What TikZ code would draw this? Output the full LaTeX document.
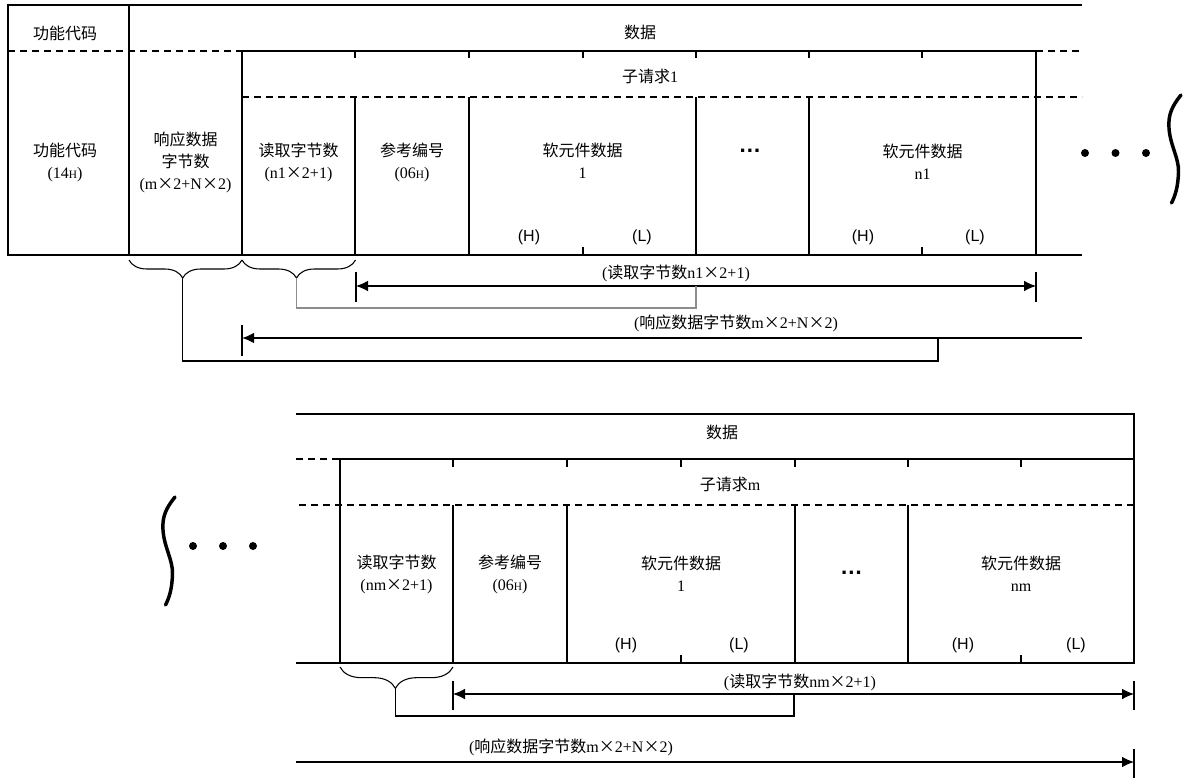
\documentclass[tikz,border=0pt]{standalone}
\usepackage{fontspec}
\setmainfont{Liberation Serif}
\setsansfont{Liberation Sans}
\newfontfamily\cjk{Noto Sans CJK SC}
\usetikzlibrary{decorations.pathreplacing,arrows.meta,calc}
\newcommand{\smH}{{\fontsize{8.5}{8.5}\selectfont H}}
\newcommand{\mulx}{{\cjk ×}}
\begin{document}
\begin{tikzpicture}[x=0.75pt,y=-0.75pt,
  outerline/.style={line width=1.3pt},
  subbox/.style={line width=1.8pt},
  divider/.style={line width=0.8pt},
  dashline/.style={line width=0.8pt,dash pattern=on 5pt off 4pt},
  lbl/.style={font=\fontsize{12}{16.5}\selectfont,align=center,inner sep=0pt},
  alabel/.style={font=\fontsize{12}{13}\selectfont,inner sep=0pt},
  hl/.style={font=\sffamily\fontsize{12}{14}\selectfont,inner sep=0pt},
  ell/.style={font=\sffamily\bfseries\fontsize{17}{17}\selectfont,inner sep=0pt},
  bracestyle/.style={line width=0.8pt,decorate},
  tipboth/.style={{Latex[length=9pt,width=8pt]}-{Latex[length=9pt,width=8pt]}},
  tipleft/.style={{Latex[length=9pt,width=8pt]}-},
  tipright/.style={-{Latex[length=9pt,width=8pt]}},
  barline/.style={line width=0.8pt},
  wave/.style={line width=2.6pt,line cap=round},
  bigdot/.style={fill=black}
]
\useasboundingbox (0,0) rectangle (1183,778);

% ================= top frame =================
\draw[outerline] (1082,5) -- (8,5) -- (8,255) -- (1082,255);
\draw[outerline] (129,5) -- (129,255);
\draw[dashline] (8,51) -- (242,51);
\draw[dashline] (1036,51) -- (1082,51);
\draw[dashline] (242,97) -- (1082,97);
\draw[subbox] (242,51) rectangle (1036,255);
\foreach \x in {355,469,696,809} \draw[divider] (\x,97) -- (\x,255);
\foreach \x in {355,469,583,696,809,922} \draw[divider] (\x,51) -- (\x,58);
\foreach \x in {583,922} \draw[divider] (\x,255) -- (\x,247);

% top texts
\node[lbl] (fcT) at (65,33) {\cjk 功能代码};
\node[lbl] (dataT) at (640,32) {\cjk 数据};
\node[lbl] (subT) at (650,76) {{\cjk 子请求}1};
\node[lbl] (fc) at (65,162) {{\cjk 功能代码}\\(14\smH)};
\node[lbl] (rb) at (185.5,162) {{\cjk 响应数据}\\{\cjk 字节数}\\(m\mulx 2+N\mulx 2)};
\node[lbl] (rd1) at (298.5,162) {{\cjk 读取字节数}\\(n1\mulx 2+1)};
\node[lbl] (ref1) at (412,162) {{\cjk 参考编号}\\(06\smH)};
\node[lbl] (dev1) at (582.5,161) {{\cjk 软元件数据}\\1};
\node[ell] (el1) at (750,151) {…};
\node[lbl] (devn1) at (922.5,162) {{\cjk 软元件数据}\\n1};
\node[hl] (h1) at (529,237) {(H)};
\node[hl] (l1) at (642,237) {(L)};
\node[hl] (h2) at (863,237) {(H)};
\node[hl] (l2) at (975,237) {(L)};

% dots and wave (top)
\fill[bigdot] (1085,153) circle[radius=3pt] (1115.5,153) circle[radius=3pt] (1146,153) circle[radius=3pt];
\draw[wave] (1181,95) .. controls (1172,106) and (1168,115) .. (1169,128)
  .. controls (1170,145) and (1179,158) .. (1178.5,172)
  .. controls (1178,188) and (1175,196) .. (1171.5,203);

% braces top
\draw[bracestyle,decoration={brace,mirror,amplitude=13.5pt,aspect=0.475}] (129,260) -- (242,260);
\draw[bracestyle,decoration={brace,mirror,amplitude=13.5pt,aspect=0.48}] (242,260) -- (355.5,260);
\coordinate (b1tip) at (182.5,278);
\coordinate (b2tip) at (296.5,278);

% arrow 1 top
\coordinate (a1L) at (356,286);
\coordinate (a1R) at (1036,286);
\draw[line width=0.8pt,tipboth] (a1L) -- (a1R);
\draw[line width=1.4pt] ($(a1L)+(0,-14)$) -- ($(a1L)+(0,16)$);
\draw[barline] ($(a1R)+(0,-14)$) -- ($(a1R)+(0,16)$);
\node[alabel] (t1) at (676,273) {({\cjk 读取字节数}n1\mulx 2+1)};
\coordinate (gc) at (696,308);
\draw[line width=0.8pt,draw=black!45] (b2tip) |- (gc) -- (gc |- a1L);

% arrow 2 top
\coordinate (a2L) at (242,338);
\coordinate (a2R) at (1082,338);
\draw[line width=1.4pt,tipleft] (a2L) -- (a2R);
\draw[barline] ($(a2L)+(0,-13)$) -- ($(a2L)+(0,18)$);
\node[alabel] (t2) at (736,323) {({\cjk 响应数据字节数}m\mulx 2+N\mulx 2)};
\coordinate (bc) at (938,361);
\draw[line width=1.4pt] (b1tip) |- (bc) -- (bc |- a2L);

% ================= bottom frame =================
\draw[outerline] (296,414) -- (1134,414) -- (1134,663) -- (296,663);
\draw[dashline] (296,459) -- (340,459);
\draw[dashline] (299,505) -- (1134,505);
\draw[subbox] (340,459) rectangle (1134,663);
\foreach \x in {453,567,795} \draw[divider] (\x,505) -- (\x,663);
\draw[line width=1.3pt] (908,505) -- (908,663);
\foreach \x in {453,567,681,795,908,1021} \draw[divider] (\x,459) -- (\x,467);
\foreach \x in {681,1021} \draw[divider] (\x,663) -- (\x,655);

% bottom texts
\node[lbl] (dataB) at (722,432) {\cjk 数据};
\node[lbl] (subB) at (730,484) {{\cjk 子请求}m};
\node[lbl] (rdm) at (396.5,574) {{\cjk 读取字节数}\\(nm\mulx 2+1)};
\node[lbl] (ref2) at (510,574) {{\cjk 参考编号}\\(06\smH)};
\node[lbl] (dev2) at (681,574) {{\cjk 软元件数据}\\1};
\node[ell] (el2) at (851.5,573) {…};
\node[lbl] (devnm) at (1021,574) {{\cjk 软元件数据}\\nm};
\node[hl] (h3) at (626,645) {(H)};
\node[hl] (l3) at (739,645) {(L)};
\node[hl] (h4) at (963,645) {(H)};
\node[hl] (l4) at (1076,645) {(L)};

% dots and wave (bottom)
\fill[bigdot] (193,546) circle[radius=3pt] (223,546) circle[radius=3pt] (253,546) circle[radius=3pt];
\begin{scope}[shift={(-1006,402)}]
\draw[wave] (1181,95) .. controls (1172,106) and (1168,115) .. (1169,128)
  .. controls (1170,145) and (1179,158) .. (1178.5,172)
  .. controls (1178,188) and (1175,196) .. (1171.5,203);
\end{scope}

% brace bottom
\draw[bracestyle,decoration={brace,mirror,amplitude=16pt,aspect=0.49}] (340,667) -- (453,667);
\coordinate (b3tip) at (395.5,688);

% arrow 3 bottom
\coordinate (a3L) at (453,694);
\coordinate (a3R) at (1134,694);
\draw[line width=0.8pt,tipboth] (a3L) -- (a3R);
\draw[barline] ($(a3L)+(0,-13)$) -- ($(a3L)+(0,16)$);
\draw[barline] ($(a3R)+(0,-13)$) -- ($(a3R)+(0,16)$);
\node[alabel] (t3) at (800,682) {({\cjk 读取字节数}nm\mulx 2+1)};
\coordinate (bc3) at (794,716);
\draw[line width=0.9pt] (b3tip) |- (bc3) -- (bc3 |- a3L);

% arrow 4 bottom
\coordinate (a4L) at (296,762);
\coordinate (a4R) at (1134,762);
\draw[line width=0.9pt,tipright] (a4L) -- (a4R);
\draw[barline] ($(a4R)+(0,-13)$) -- ($(a4R)+(0,16)$);
\node[alabel] (t4) at (571,747) {({\cjk 响应数据字节数}m\mulx 2+N\mulx 2)};
\end{tikzpicture}
\end{document}
